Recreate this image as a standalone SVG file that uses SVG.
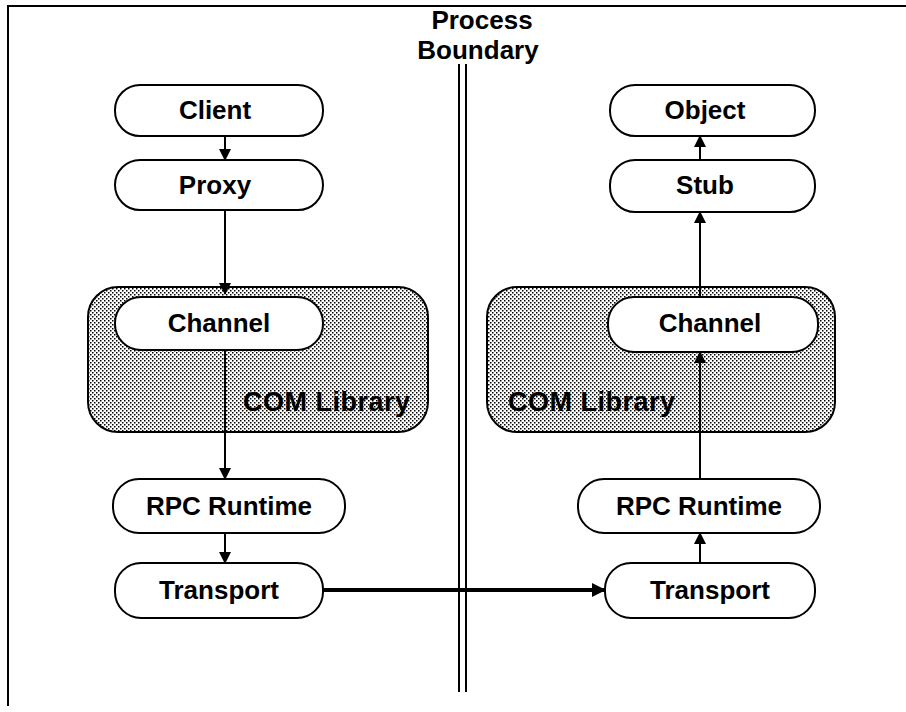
<svg xmlns="http://www.w3.org/2000/svg" width="906" height="712" viewBox="0 0 906 712">
  <defs>
    <!-- stipple fill for the library regions -->
    <pattern id="stipple" width="4" height="4" patternUnits="userSpaceOnUse">
      <rect width="4" height="4" fill="#ffffff"/>
      <rect x="0" y="0" width="1.5" height="1.5" fill="#000"/>
      <rect x="2" y="2" width="1.5" height="1.5" fill="#000"/>
    </pattern>
    <marker id="head" viewBox="0 0 12 12" refX="11" refY="6" markerWidth="12" markerHeight="12" markerUnits="userSpaceOnUse" orient="auto">
      <path d="M0,0 L12,6 L0,12 Z" fill="#000"/>
    </marker>
    <marker id="headBig" viewBox="0 0 14 14" refX="13" refY="7" markerWidth="14" markerHeight="14" markerUnits="userSpaceOnUse" orient="auto">
      <path d="M0,0 L14,7 L0,14 Z" fill="#000"/>
    </marker>
  </defs>
  <style>
    .node rect { fill: #fff; stroke: #000; stroke-width: 2; }
    .lib rect { fill: url(#stipple); stroke: #000; stroke-width: 2; }
    .lbl { font-family: "Liberation Sans", Arial, sans-serif; font-weight: bold; font-size: 26px; fill: #000; text-anchor: middle; dominant-baseline: central; }
    .liblbl { font-family: "Liberation Sans", Arial, sans-serif; font-weight: bold; font-size: 27px; letter-spacing: 0.5px; fill: #000; }
    .edge { stroke: #000; stroke-width: 2; fill: none; marker-end: url(#head); }
    .edge-thick { stroke: #000; stroke-width: 4; fill: none; marker-end: url(#headBig); }
    .frame { stroke: #000; stroke-width: 2; fill: none; }
  </style>

  <rect width="906" height="712" fill="#fff"/>

  <!-- frame -->
  <path class="frame" d="M8,706 L8,6 L906,6"/>

  <!-- process boundary -->
  <g id="boundary">
    <text class="lbl" x="482" y="20">Process</text>
    <text class="lbl" x="478" y="50">Boundary</text>
    <line x1="459" y1="64" x2="459" y2="692" stroke="#000" stroke-width="2"/>
    <line x1="466" y1="64" x2="466" y2="692" stroke="#000" stroke-width="2"/>
  </g>

  <!-- COM library regions -->
  <g id="com-left" class="lib">
    <rect x="88" y="287" width="340" height="145" rx="30"/>
    <text class="liblbl" x="243" y="411">COM Library</text>
  </g>
  <g id="com-right" class="lib">
    <rect x="487" y="287" width="348" height="145" rx="30"/>
    <text class="liblbl" x="508" y="411">COM Library</text>
  </g>

  <!-- client side -->
  <g id="client" class="node">
    <rect x="115" y="85" width="208" height="51" rx="25"/>
    <text class="lbl" x="215" y="110">Client</text>
  </g>
  <g id="proxy" class="node">
    <rect x="115" y="160" width="208" height="50" rx="25"/>
    <text class="lbl" x="215" y="185">Proxy</text>
  </g>
  <g id="channel-left" class="node">
    <rect x="115" y="297" width="208" height="53" rx="26"/>
    <text class="lbl" x="219" y="323">Channel</text>
  </g>
  <g id="rpc-left" class="node">
    <rect x="113" y="479" width="232" height="54" rx="26"/>
    <text class="lbl" x="229" y="506">RPC Runtime</text>
  </g>
  <g id="transport-left" class="node">
    <rect x="115" y="563" width="208" height="55" rx="26"/>
    <text class="lbl" x="219" y="590">Transport</text>
  </g>

  <!-- server side -->
  <g id="object" class="node">
    <rect x="610" y="85" width="205" height="51" rx="25"/>
    <text class="lbl" x="705" y="110">Object</text>
  </g>
  <g id="stub" class="node">
    <rect x="610" y="160" width="205" height="52" rx="25"/>
    <text class="lbl" x="705" y="185">Stub</text>
  </g>
  <g id="channel-right" class="node">
    <rect x="608" y="297" width="210" height="55" rx="26"/>
    <text class="lbl" x="710" y="323">Channel</text>
  </g>
  <g id="rpc-right" class="node">
    <rect x="578" y="479" width="242" height="54" rx="26"/>
    <text class="lbl" x="699" y="506">RPC Runtime</text>
  </g>
  <g id="transport-right" class="node">
    <rect x="605" y="563" width="210" height="55" rx="26"/>
    <text class="lbl" x="710" y="590">Transport</text>
  </g>

  <!-- connectors -->
  <g id="connectors">
    <line class="edge" x1="225" y1="136" x2="225" y2="160"/>
    <line class="edge" x1="225" y1="210" x2="225" y2="294"/>
    <line class="edge" x1="225" y1="350" x2="225" y2="479"/>
    <line class="edge" x1="225" y1="533" x2="225" y2="563"/>
    <line class="edge-thick" x1="323" y1="590" x2="605" y2="590"/>
    <line class="edge" x1="700" y1="563" x2="700" y2="533"/>
    <line class="edge" x1="700" y1="479" x2="700" y2="352"/>
    <line class="edge" x1="700" y1="297" x2="700" y2="212"/>
    <line class="edge" x1="700" y1="160" x2="700" y2="136"/>
  </g>
</svg>
